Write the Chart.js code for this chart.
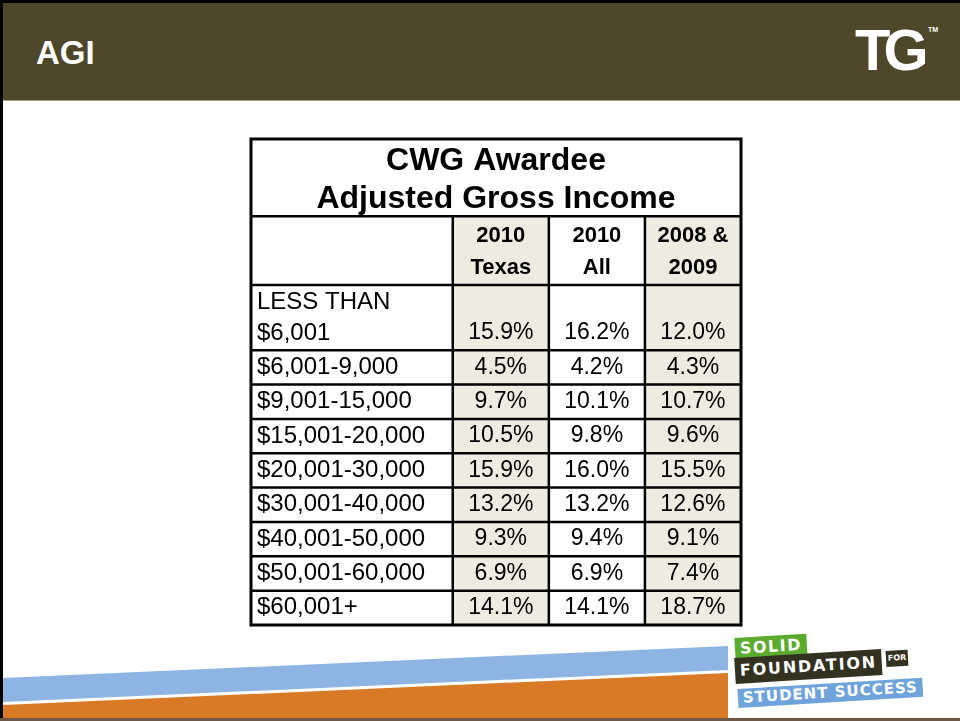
<!DOCTYPE html>
<html>
<head>
<meta charset="utf-8">
<script src="https://cdn.jsdelivr.net/npm/chart.js@4/dist/chart.umd.min.js"></script>
<style>
  html, body { margin: 0; padding: 0; background: #fff; }
  #slide { position: relative; width: 960px; height: 721px; overflow: hidden; background: #fff; }
  #frame { position: absolute; left: 0; top: 0; width: 960px; height: 719px; border-left: 3px solid #000; border-top: 3px solid #000; box-sizing: border-box; }
  #bottomline { position: absolute; left: 0; top: 718px; width: 960px; height: 3px; background: #6e5a44; }
  #header { position: absolute; left: 3px; top: 3px; width: 957px; height: 97px; background: #4f4729; border-bottom: 1px solid #a19c83; }
  #agi { position: absolute; left: 36px; top: 34px; color: #fff; font: bold 33px "Liberation Sans", Arial, sans-serif; }
  #tg { position: absolute; left: 855px; top: 16px; color: #fff; font: 900 58px "Liberation Sans", Arial, sans-serif; letter-spacing: -7px; }
  #tm { position: absolute; left: 928px; top: 26px; color: #fff; font: bold 7px "Liberation Sans", Arial, sans-serif; }
  #tablechart { position: absolute; left: 247px; top: 135px; }
  #swoosh { position: absolute; left: 0; top: 630px; }
  .badge { position: absolute; color: #fff; font: bold 16px "DejaVu Sans", sans-serif; transform-origin: left center; white-space: nowrap; padding: 0 5px; box-sizing: border-box; }
</style>
</head>
<body>
<div id="slide">
  <div id="header"></div>
  <div id="agi">AGI</div>
  <div id="tg">TG</div>
  <div id="tm">TM</div>

  <canvas id="tablechart" width="498" height="494"></canvas>

  <svg id="swoosh" width="960" height="91" viewBox="0 630 960 91">
    <polygon points="3,678 728,646 728,670 3,702" fill="#8db4e2"/>
    <polygon points="3,705 728,673 728,719 3,719" fill="#d97a26"/>
  </svg>
  <div class="badge" style="left:735px;top:638px;height:22px;line-height:22px;background:#5aab2e;letter-spacing:1.5px;transform:rotate(-3.5deg);">SOLID</div>
  <div class="badge" style="left:735px;top:658px;height:26px;line-height:26px;background:#33311f;letter-spacing:1.8px;transform:rotate(-3.5deg);">FOUNDATION</div>
  <div class="badge" style="left:886px;top:651px;height:16px;line-height:16px;padding:0 2px;background:#33311f;font-size:8px;transform:rotate(-3.5deg);">FOR</div>
  <div class="badge" style="left:738px;top:689px;height:19px;line-height:19px;background:#6fa3dc;font-size:15px;letter-spacing:1px;transform:rotate(-3.5deg);">STUDENT SUCCESS</div>

  <div id="frame"></div>
  <div id="bottomline"></div>
</div>

<script>
// table content
const tableTitle = ['CWG Awardee', 'Adjusted Gross Income'];
const seriesNames = [['2010', 'Texas'], ['2010', 'All'], ['2008 &', '2009']];
const categories = [
  ['LESS THAN', '$6,001'],
  ['$6,001-9,000'],
  ['$9,001-15,000'],
  ['$15,001-20,000'],
  ['$20,001-30,000'],
  ['$30,001-40,000'],
  ['$40,001-50,000'],
  ['$50,001-60,000'],
  ['$60,001+']
];
const texas2010 = [15.9, 4.5, 9.7, 10.5, 15.9, 13.2, 9.3, 6.9, 14.1];
const all2010 = [16.2, 4.2, 10.1, 9.8, 16.0, 13.2, 9.4, 6.9, 14.1];
const y2008and2009 = [12.0, 4.3, 10.7, 9.6, 15.5, 12.6, 9.1, 7.4, 18.7];
const seriesValues = [texas2010, all2010, y2008and2009];

// grid in scale units (x: columns, y: rows from top)
const colEdges = [0, 2.1, 3.1, 4.1, 5.1];
const titleBottom = 2.25;
const headerBottom = 4.25;
const rowEdges = [headerBottom, 6.15, 7.15, 8.15, 9.15, 10.15, 11.15, 12.15, 13.15, 14.15];
const lineStep = 0.9;
const shaded = [true, false, true];

const FONT = '"Liberation Sans", Arial, sans-serif';

const datasets = seriesValues.map((vals, s) => ({
  label: seriesNames[s].join(' '),
  data: vals.map((v, i) => ({ x: (colEdges[s + 1] + colEdges[s + 2]) / 2, y: rowEdges[i + 1] - 0.5 })),
  pointRadius: 0,
  showLine: false
}));

const tablePlugin = {
  id: 'tableDraw',
  beforeDatasetsDraw(chart) {
    const { ctx, scales: { x, y } } = chart;
    const px = v => x.getPixelForValue(v);
    const py = v => y.getPixelForValue(v);
    const top = py(0), bottom = py(rowEdges[rowEdges.length - 1]);
    const left = px(0), right = px(colEdges[colEdges.length - 1]);
    ctx.save();
    ctx.fillStyle = '#fff';
    ctx.fillRect(left, top, right - left, bottom - top);
    // shaded columns
    ctx.fillStyle = '#eeece1';
    shaded.forEach((sh, s) => {
      if (!sh) return;
      ctx.fillRect(px(colEdges[s + 1]), py(titleBottom), px(colEdges[s + 2]) - px(colEdges[s + 1]), bottom - py(titleBottom));
    });
    // grid lines
    ctx.strokeStyle = '#000';
    ctx.lineWidth = 2.5;
    ctx.beginPath();
    for (let c = 1; c < colEdges.length - 1; c++) {
      ctx.moveTo(px(colEdges[c]), py(titleBottom));
      ctx.lineTo(px(colEdges[c]), bottom);
    }
    ctx.moveTo(left, py(titleBottom)); ctx.lineTo(right, py(titleBottom));
    rowEdges.slice(0, -1).forEach(r => { ctx.moveTo(left, py(r)); ctx.lineTo(right, py(r)); });
    ctx.stroke();
    ctx.lineWidth = 3;
    ctx.strokeRect(left, top, right - left, bottom - top);

    // title
    ctx.fillStyle = '#000';
    ctx.textBaseline = 'middle';
    ctx.textAlign = 'center';
    ctx.font = 'bold 32px ' + FONT;
    ctx.fillText(tableTitle[0], (left + right) / 2, py(0.66));
    ctx.fillText(tableTitle[1], (left + right) / 2, py(1.74));

    // column headers
    ctx.font = 'bold 22px ' + FONT;
    seriesNames.forEach((lines, s) => {
      const cx = px((colEdges[s + 1] + colEdges[s + 2]) / 2);
      lines.forEach((t, k) => ctx.fillText(t, cx, py(headerBottom - 0.49 - (lines.length - 1 - k) * 0.94)));
    });

    // row labels
    ctx.font = '24px ' + FONT;
    ctx.textAlign = 'left';
    categories.forEach((lines, i) => {
      lines.forEach((t, k) => ctx.fillText(t, left + 6, py(rowEdges[i + 1] - 0.5 - (lines.length - 1 - k) * lineStep)));
    });
    ctx.restore();
  },
  afterDatasetsDraw(chart) {
    const { ctx } = chart;
    ctx.save();
    ctx.fillStyle = '#000';
    ctx.font = '23px ' + FONT;
    ctx.textAlign = 'center';
    ctx.textBaseline = 'middle';
    chart.data.datasets.forEach((ds, s) => {
      chart.getDatasetMeta(s).data.forEach((pt, i) => {
        ctx.fillText(seriesValues[s][i].toFixed(1) + '%', pt.x, pt.y);
      });
    });
    ctx.restore();
  }
};

new Chart(document.getElementById('tablechart').getContext('2d'), {
  type: 'scatter',
  plugins: [tablePlugin],
  data: { datasets },
  options: {
    responsive: false,
    animation: false,
    devicePixelRatio: 1,
    layout: { padding: 4 },
    scales: {
      x: { type: 'linear', min: colEdges[0], max: colEdges[colEdges.length - 1], display: false },
      y: { type: 'linear', min: 0, max: rowEdges[rowEdges.length - 1], reverse: true, display: false }
    },
    plugins: { legend: { display: false }, tooltip: { enabled: false } },
    events: []
  }
});
</script>
</body>
</html>
